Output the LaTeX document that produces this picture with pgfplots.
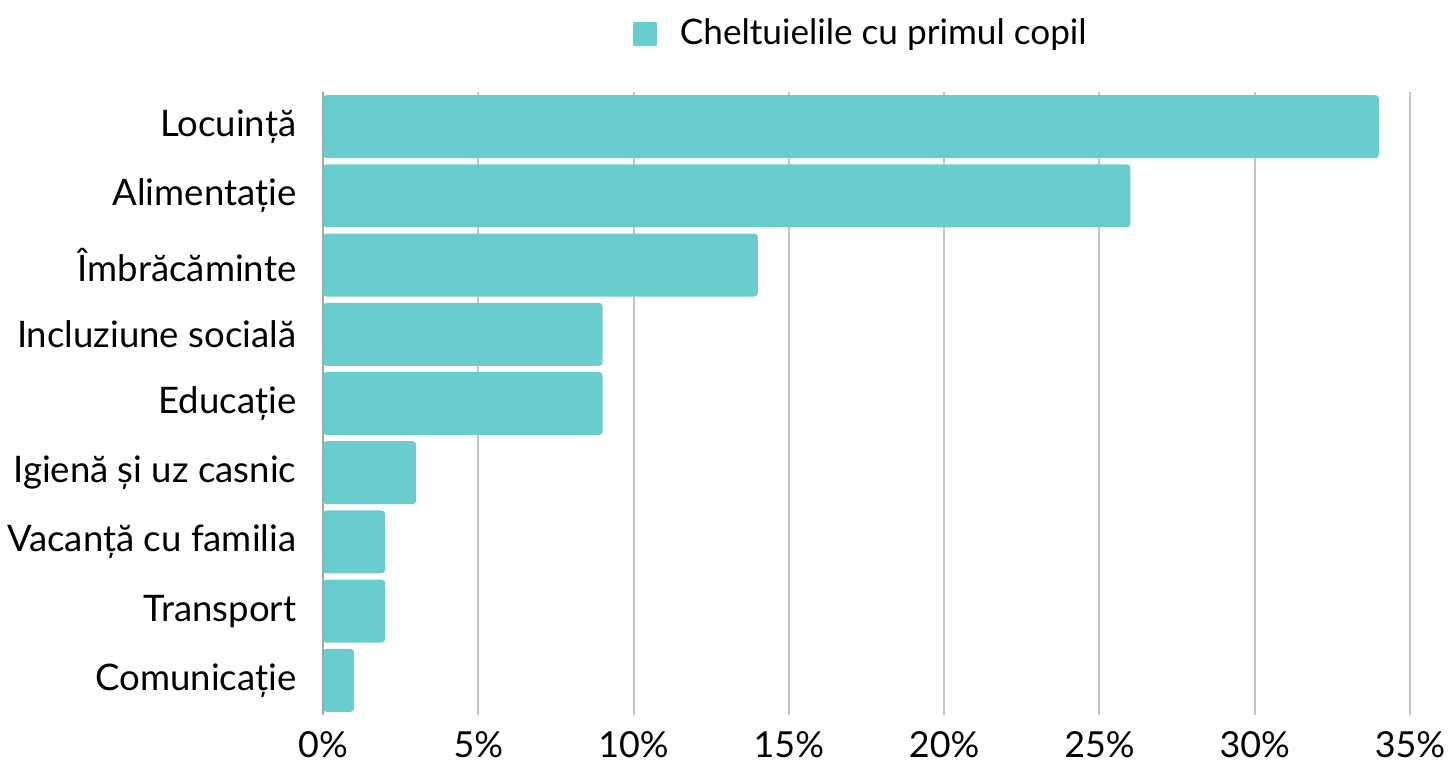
\documentclass[border=0pt]{standalone}
\usepackage{fontspec}
\setmainfont{Lato}
\usepackage{pgfplots}
\pgfplotsset{compat=1.18}
\definecolor{barc}{HTML}{68CDCC}
\definecolor{gridc}{HTML}{C4C4C4}
\begin{document}
\begin{tikzpicture}
\useasboundingbox (-32.3mm,-4.8mm) rectangle (112.6mm,71.5mm);
\begin{axis}[
  at={(0,0)}, anchor=south west,
  scale only axis,
  width=108.7mm, height=62.3mm,
  xbar, bar width=6.3mm,
  xmin=0, xmax=35,
  ymin=-0.5, ymax=8.5,
  y dir=reverse,
  ytick={0,1,2,3,4,5,6,7,8},
  yticklabels={Locuință,Alimentație,Îmbrăcăminte,Incluziune socială,Educație,Igienă și uz casnic,Vacanță cu familia,Transport,Comunicație},
  xtick={0,5,10,15,20,25,30,35},
  xticklabels={0\%,5\%,10\%,15\%,20\%,25\%,30\%,35\%},
  major tick length=0pt,
  xmajorgrids,
  grid style={gridc, line width=0.2mm},
  axis lines*=left,
  axis line style={draw=none},
  xticklabel style={inner sep=0pt, anchor=north, yshift=-1.6mm, font=\fontsize{10.2}{12}\selectfont},
  yticklabel style={inner sep=0pt, anchor=east, xshift=-2.6mm, font=\fontsize{10.4}{12}\selectfont},
  legend style={draw=none, fill=none, at={(0.497,1)}, anchor=center, yshift=5.8mm,
    font=\fontsize{10}{12}\selectfont, legend cell align=left},
  legend image code/.code={\fill[barc, rounded corners=0.3pt] (0mm,-1.2mm) rectangle (2.4mm,1.2mm);},
  clip=false,
]
\addplot[fill=barc, draw=none, rounded corners=0.35mm] coordinates {
 (34,0) (26,1) (14,2) (9,3) (9,4) (3,5) (2,6) (2,7) (1,8)
};
\addlegendentry{\hspace{1.6mm}Cheltuielile cu primul copil}
\draw[gray!70, line width=0.15mm] (axis cs:0,-0.5) -- (axis cs:0,8.5);
\end{axis}
\end{tikzpicture}
\end{document}
